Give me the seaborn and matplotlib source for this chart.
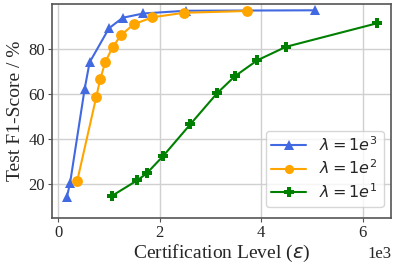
import matplotlib
matplotlib.use("Agg")
import matplotlib.pyplot as plt
import seaborn as sns
import pandas as pd

x_l3 = [165, 230, 515, 614, 996, 1267, 1675, 2515, 5061]
y_l3 = [14.2, 20.7, 62.1, 74.1, 89.2, 93.9, 95.8, 97.0, 97.2]
x_l2 = [368, 745, 824, 923, 1069, 1240, 1485, 1853, 2475, 3723]
y_l2 = [21.3, 58.7, 66.7, 74.2, 80.9, 86.3, 91.0, 94.1, 96.1, 96.9]
x_l1 = [1050, 1557, 1743, 2071, 2600, 3129, 3477, 3921, 4487, 6277]
y_l1 = [14.8, 21.8, 24.9, 32.7, 46.6, 60.4, 67.9, 75.0, 81.0, 91.4]
labels = [r'$\lambda = 1e^3$', r'$\lambda = 1e^2$', r'$\lambda = 1e^1$']

sns.set_style("whitegrid")
plt.rcParams['font.family'] = ['Liberation Serif', 'DejaVu Sans']
plt.rcParams['mathtext.fontset'] = 'dejavusans'

df = pd.concat([
    pd.DataFrame({'x': x_l3, 'y': y_l3, 's': labels[0]}),
    pd.DataFrame({'x': x_l2, 'y': y_l2, 's': labels[1]}),
    pd.DataFrame({'x': x_l1, 'y': y_l1, 's': labels[2]}),
])

fig = plt.figure(figsize=(3.99, 2.66), dpi=100)
ax = fig.add_axes([0.130, 0.18, 0.85, 0.805])
palette = {labels[0]: '#4169E1', labels[1]: '#FFA500', labels[2]: '#008000'}
markers = {labels[0]: '^', labels[1]: 'o', labels[2]: 'P'}
sns.lineplot(data=df, x='x', y='y', hue='s', style='s', palette=palette,
             markers=markers, dashes=False, markersize=7.8, markeredgewidth=0,
             linewidth=1.5, sort=False, ax=ax)

ax.set_ylim(5, 100)
ax.set_xlim(-130, 6560)
ax.set_yticks([20, 40, 60, 80])
ax.set_xticks([0, 2000, 4000, 6000])
ax.set_xticklabels(['0', '2', '4', '6'])
ax.tick_params(labelsize=12, length=3, pad=2, color='#555555', bottom=True, left=True)
ax.set_xlabel(r'Certification Level ($\epsilon$)', fontsize=14, labelpad=1)
ax.set_ylabel('Test F1-Score / %', fontsize=14, labelpad=3)
ax.text(1.0, -0.128, '1e3', transform=ax.transAxes, ha='right', va='top', fontsize=12)
for sp in ax.spines.values():
    sp.set_color('#555555')
    sp.set_linewidth(1.2)
ax.grid(color='#d0d0d0', linewidth=1)
ax.legend(title=None, loc='lower right', fontsize=11.5, handlelength=2.2,
          borderpad=0.35, labelspacing=0.3, handletextpad=0.8, markerscale=0.85,
          bbox_to_anchor=(0.978, 0.05), borderaxespad=0)
fig.savefig('out.png', dpi=100)
